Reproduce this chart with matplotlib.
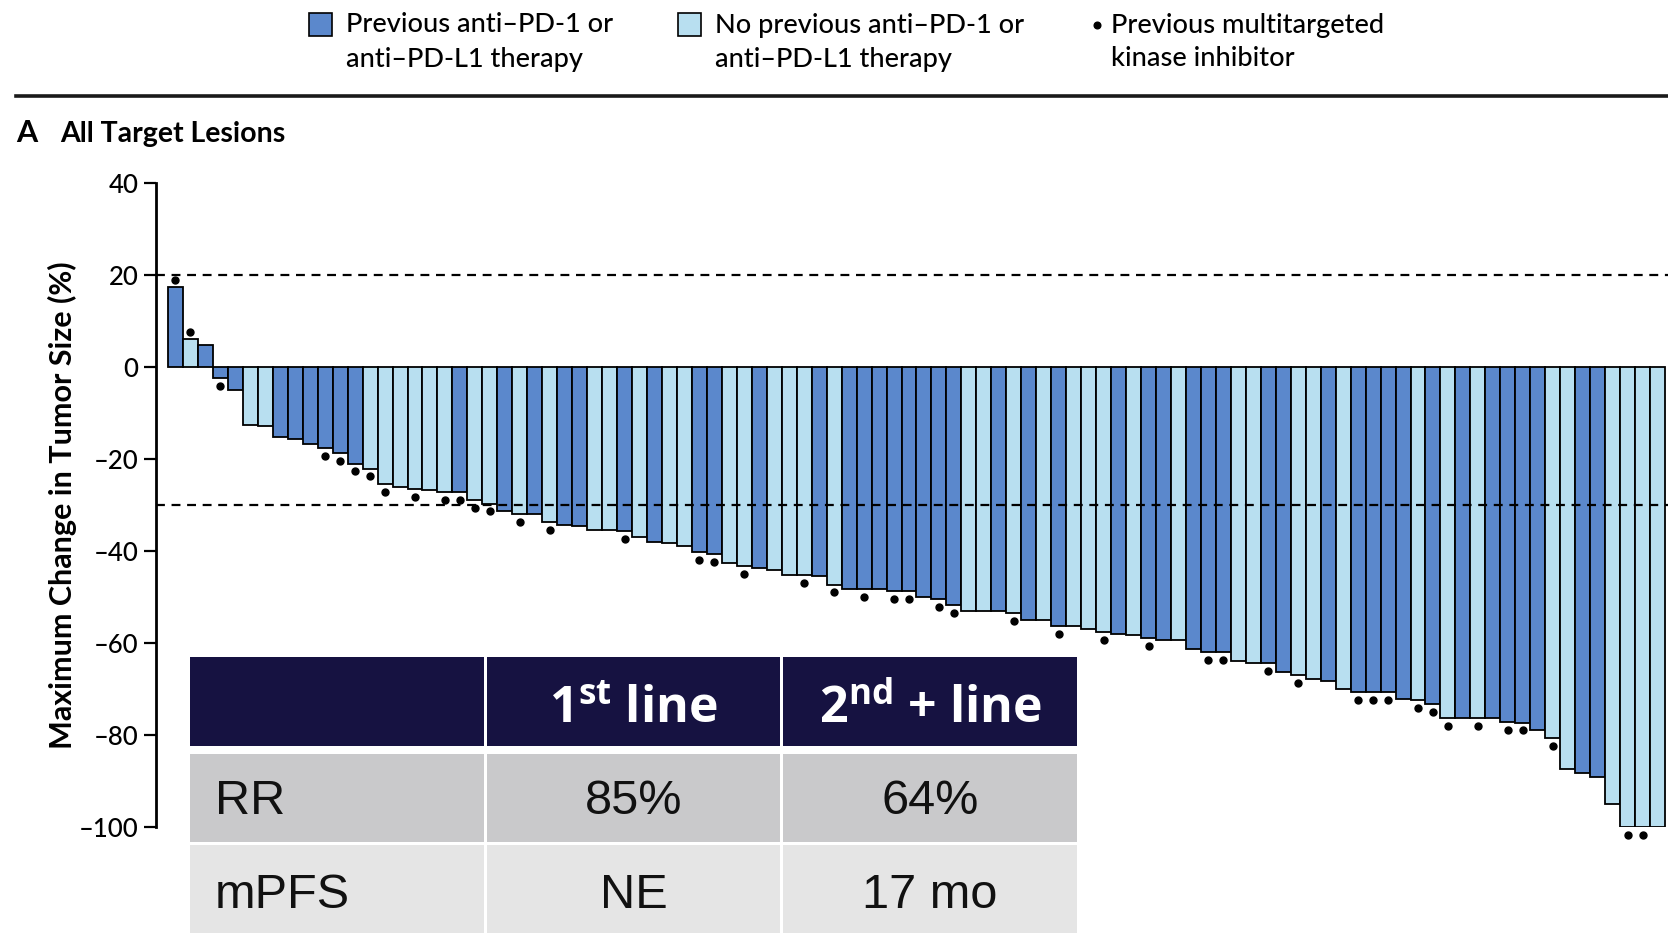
import matplotlib
matplotlib.use('Agg')
import matplotlib.pyplot as plt
from matplotlib.patches import Rectangle
from matplotlib.lines import Line2D
import numpy as np

plt.rcParams['font.family'] = ['Lato', 'DejaVu Sans']

# best change in target lesions, one bar per patient (sorted)
change = [17.3, 6.0, 4.7, -2.5, -5.1, -12.7, -12.8, -15.2, -15.7, -16.8,
          -17.6, -18.7, -21.0, -22.1, -25.4, -26.0, -26.5, -26.8, -27.2, -27.2,
          -29.0, -29.7, -31.4, -32.0, -32.0, -33.7, -34.4, -34.6, -35.4, -35.4,
          -35.7, -37.0, -38.0, -38.2, -38.9, -40.2, -40.6, -42.7, -43.3, -43.7,
          -44.2, -45.3, -45.3, -45.4, -47.3, -48.2, -48.2, -48.3, -48.7, -48.7,
          -50.0, -50.5, -51.8, -53.1, -53.1, -53.1, -53.5, -54.9, -55.1, -56.3,
          -56.3, -56.9, -57.6, -58.0, -58.3, -58.9, -59.4, -59.4, -61.4, -61.9,
          -61.9, -63.9, -64.4, -64.4, -66.4, -66.9, -67.9, -68.2, -69.9, -70.6,
          -70.6, -70.6, -72.1, -72.4, -73.2, -76.4, -76.4, -76.4, -76.4, -77.2,
          -77.3, -79.0, -80.6, -87.3, -88.2, -89.1, -94.9, -100.0, -100.0, -100.0]

# 1 = previous anti-PD-1 / anti-PD-L1 therapy
prior_pd1 = [1, 0, 1, 1, 1, 0, 0, 1, 1, 1,
             1, 1, 1, 0, 0, 0, 0, 0, 0, 1,
             0, 0, 1, 0, 1, 0, 1, 1, 0, 0,
             1, 0, 1, 0, 0, 1, 1, 0, 0, 1,
             0, 0, 0, 1, 0, 1, 1, 1, 1, 1,
             1, 1, 1, 0, 0, 1, 0, 1, 0, 1,
             0, 0, 0, 1, 0, 1, 1, 0, 1, 1,
             1, 0, 0, 1, 1, 0, 0, 1, 0, 1,
             1, 1, 1, 0, 1, 0, 1, 0, 1, 1,
             1, 1, 0, 0, 1, 1, 0, 0, 0, 0]

# 1 = previous multitargeted kinase inhibitor
prior_mki = [1, 1, 0, 1, 0, 0, 0, 0, 0, 0,
             1, 1, 1, 1, 1, 0, 1, 0, 1, 1,
             1, 1, 0, 1, 0, 1, 0, 0, 0, 0,
             1, 0, 0, 0, 0, 1, 1, 0, 1, 0,
             0, 0, 1, 0, 1, 0, 1, 0, 1, 1,
             0, 1, 1, 0, 0, 0, 1, 0, 0, 1,
             0, 0, 1, 0, 0, 1, 0, 0, 0, 1,
             1, 0, 0, 1, 0, 1, 0, 0, 0, 1,
             1, 1, 0, 1, 1, 1, 0, 1, 0, 1,
             1, 0, 1, 0, 0, 0, 0, 1, 1, 0]

yticks = [40, 20, 0, -20, -40, -60, -80, -100]

table_header = ['', '1$^{\\mathregular{st}}$ line', '2$^{\\mathregular{nd}}$ + line']
table_rows = ['RR', 'mPFS']
first_line = ['85%', 'NE']
second_line = ['64%', '17 mo']

DARK = '#5b88cc'
LIGHT = '#b8dff0'
W, H = 1668, 933

fig = plt.figure(figsize=(W / 100, H / 100), dpi=100)

def fx(x):
    return x / W

def fy(y):
    return 1 - y / H

#==============================================================================
# waterfall
ax = fig.add_axes([fx(156), fy(827), fx(1668 - 156), (827 - 183) / H])
x = np.arange(len(change))
vals = np.array(change)
cols = [DARK if p else LIGHT for p in prior_pd1]
ax.bar(x, vals, width=1.0, color=cols, edgecolor='black', linewidth=1.3, zorder=2)

mk = np.array(prior_mki, dtype=bool)
dot_y = vals + np.where(vals >= 0, 1.6, -1.7)
ax.plot(x[mk], dot_y[mk], 'o', color='black', markersize=5, clip_on=False, zorder=4)

for ref in (20, -30):
    ax.axhline(ref, color='black', linewidth=1.6, linestyle=(0, (4, 3)), zorder=3)

ax.set_xlim(-1.3, 99.7)
ax.set_ylim(-100, 40)
ax.set_yticks(yticks)
ax.set_yticklabels([str(t).replace('-', '\u2013') for t in yticks])
ax.tick_params(axis='y', length=9, width=1.6, pad=3.5, labelsize=18.5)
for lab in ax.get_yticklabels():
    lab.set_fontweight('medium')
ax.set_xticks([])
for s in ('top', 'right', 'bottom'):
    ax.spines[s].set_visible(False)
ax.spines['left'].set_linewidth(2.0)

fig.text(fx(62), fy(505), 'Maximum Change in Tumor Size (%)', rotation=90,
         ha='center', va='center', fontsize=22, fontweight='bold')

#==============================================================================
# panel heading, rule and key
fig.text(fx(16), fy(133), 'A', fontsize=22, fontweight='bold', ha='left', va='center')
fig.text(fx(60), fy(134), 'All Target Lesions', fontsize=20.5, fontweight='bold',
         ha='left', va='center')
fig.add_artist(Line2D([fx(16), 1], [fy(96), fy(96)], color='#1a1a1a', linewidth=2.6))

for x0, c, txt in ((309, DARK, 'Previous anti\u2013PD-1 or\nanti\u2013PD-L1 therapy'),
                   (678, LIGHT, 'No previous anti\u2013PD-1 or\nanti\u2013PD-L1 therapy')):
    fig.add_artist(Rectangle((fx(x0), fy(36)), fx(23), 23 / H, facecolor=c,
                             edgecolor='black', linewidth=1.2))
    fig.text(fx(x0 + 37), fy(42), txt, fontsize=19.5, fontweight='medium',
             ha='left', va='center', linespacing=1.45)
fig.add_artist(Line2D([fx(1097)], [fy(25)], marker='o', color='black', markersize=4.8))
fig.text(fx(1111), fy(42), 'Previous multitargeted\nkinase inhibitor', fontsize=19.5,
         fontweight='medium', ha='left', va='center', linespacing=1.45)

#==============================================================================
# summary table over the lower left of the plot
tab = fig.add_axes([fx(190), 0, fx(1077 - 190), fy(657)], zorder=5)
tab.set_xlim(190, 1077)
tab.set_ylim(933, 657)
tab.axis('off')
col_edges = [(190, 484), (487, 780), (783, 1077)]
row_spans = [(657, 746), (754, 842), (845, 933)]
row_fill = ['#161241', '#c9c9cb', '#e5e5e5']
text_dy = [9, 3, 6]

cells = [table_header,
         [table_rows[0], first_line[0], second_line[0]],
         [table_rows[1], first_line[1], second_line[1]]]
for r, (y0, y1) in enumerate(row_spans):
    for c, (x0, x1) in enumerate(col_edges):
        tab.add_patch(Rectangle((x0, y0), x1 - x0, y1 - y0, facecolor=row_fill[r],
                                edgecolor='none'))
        txt = cells[r][c]
        if not txt:
            continue
        ym = (y0 + y1) / 2 + text_dy[r]
        if r == 0:
            tab.text((x0 + x1) / 2, ym, txt, color='white', fontsize=36,
                     fontweight='bold', family=['Open Sans', 'DejaVu Sans'],
                     ha='center', va='center')
        elif c == 0:
            tab.text(x0 + 25, ym, txt, color='#111111', fontsize=35,
                     family=['Liberation Sans', 'DejaVu Sans'], ha='left', va='center')
        else:
            tab.text((x0 + x1) / 2, ym, txt, color='#111111', fontsize=35,
                     family=['Liberation Sans', 'DejaVu Sans'], ha='center', va='center')

fig.savefig('out.png', dpi=100)
